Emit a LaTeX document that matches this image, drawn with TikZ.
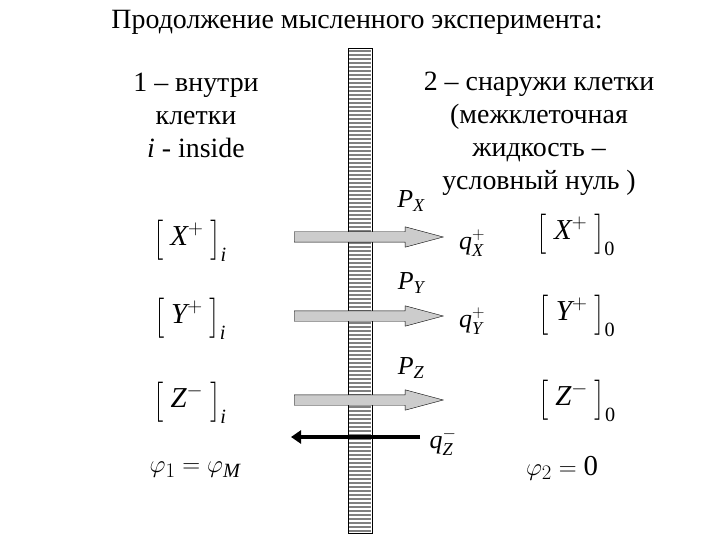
\documentclass[tikz,border=0pt]{standalone}
\usepackage{amsmath}
\usepackage{graphicx}
\usepackage{fontspec}
\setmainfont{Liberation Serif}
\usetikzlibrary{shapes.arrows, arrows.meta}
\newcommand{\mi}[1]{\textit{#1}}
\newcommand{\lbr}{\text{\raisebox{-3bp}{\scalebox{1}[1.35]{$\bigl[$}}}}
\newcommand{\rbr}{\text{\raisebox{-3bp}{\scalebox{1}[1.35]{$\bigr]$}}}}
\tikzset{
    every node/.style={font=\fontsize{28}{33}\selectfont, inner sep=0pt},
    conc/.style={font=\fontsize{29}{33}\selectfont},
    perm/.style={font=\fontsize{26}{30}\selectfont},
    flux/.style={single arrow, draw=black, fill=gray!40, inner xsep=0pt, inner ysep=5bp,
        minimum width=20bp, minimum height=149bp, single arrow head extend=5bp,
        single arrow tip angle=30, anchor=tail},
    stripe/.style={gray, line width=2bp},
}
\begin{document}
\begin{tikzpicture}[x=1bp, y=-1bp]
   \useasboundingbox (0,0) rectangle (720,540);
   % title and the two sides
   \node (title) at (357,22) {Продолжение мысленного эксперимента:};
   \node[align=center, anchor=north] (inside) at (196,73) {1 – внутри\\клетки\\\textit{i} - inside};
   \node[align=center, anchor=north] (outside) at (539,72) {2 – снаружи клетки\\(межклеточная\\жидкость –\\условный нуль )};
   % membrane
   \draw[fill=white] (348,48) rectangle (372,533);
   \foreach \y in {51,55,...,531}
      \draw[stripe] (349,\y) -- (371,\y);
   \draw[thick] (348,48) rectangle (372,533);
   % fluxes through the membrane
   \node[flux] (fluxX) at (294,237) {};
   \node[flux] (fluxY) at (294,316) {};
   \node[flux] (fluxZ) at (294,400) {};
   \coordinate (zstart) at (420,437);
   \coordinate (zend) at (291,437);
   \draw[line width=4bp, -{Triangle[length=10bp, width=13bp]}] (zstart) -- (zend);
   % concentrations
   \node[conc] (Xi) at (190,241) {$\lbr\;\mi{X}^{+}\;\rbr_{\mi{i}}$};
   \node[conc] (Yi) at (190,319) {$\lbr\;\mi{Y}^{+}\;\rbr_{\mi{i}}$};
   \node[conc] (Zi) at (190,403) {$\lbr\;\mi{Z}^{-}\;\rbr_{\mi{i}}$};
   \node[conc] (Xo) at (576,235) {$\lbr\;\mi{X}^{+}\;\rbr_{\text{0}}$};
   \node[conc] (Yo) at (577,316) {$\lbr\;\mi{Y}^{+}\;\rbr_{\text{0}}$};
   \node[conc] (Zo) at (577,401) {$\lbr\;\mi{Z}^{-}\;\rbr_{\text{0}}$};
   % permeabilities and charges
   \node[perm] (PX) at (411,201) {$\mi{P}_{\mi{X}}$};
   \node[perm] (PY) at (411,283) {$\mi{P}_{\mi{Y}}$};
   \node[perm] (PZ) at (411,368) {$\mi{P}_{\mi{Z}}$};
   \node[perm] (qX) at (472,243) {$\mi{q}_{\mi{X}}^{+}$};
   \node[perm] (qY) at (472,321) {$\mi{q}_{\mi{Y}}^{+}$};
   \node[perm] (qZ) at (443,442) {$\mi{q}_{\mi{Z}}^{-}$};
   % potentials
   \node[conc] (phi1) at (195,470) {$\varphi_{1}=\varphi_{\mi{M}}$};
   \node[conc] (phi2) at (562,468) {$\varphi_{2}=\text{0}$};
\end{tikzpicture}
\end{document}
